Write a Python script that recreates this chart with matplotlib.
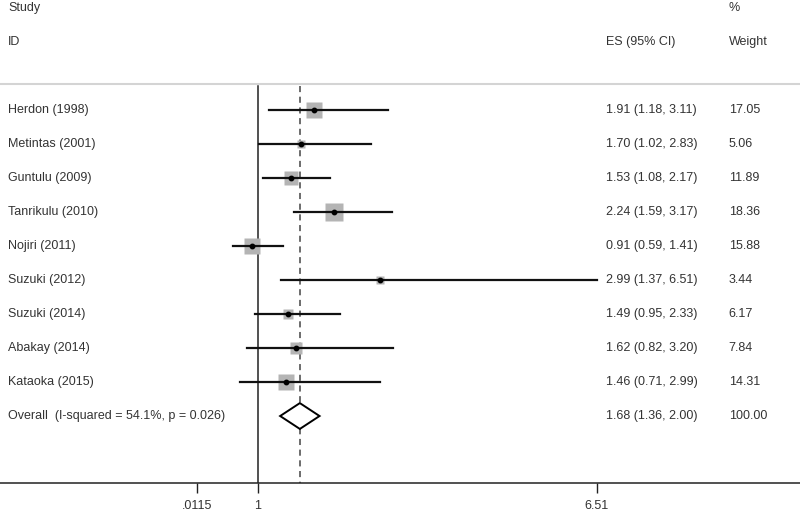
import numpy as np
import matplotlib.pyplot as plt

plt.rcParams['font.family'] = ['Liberation Sans', 'DejaVu Sans']

studies = ['Herdon (1998)', 'Metintas (2001)', 'Guntulu (2009)', 'Tanrikulu (2010)',
           'Nojiri (2011)', 'Suzuki (2012)', 'Suzuki (2014)', 'Abakay (2014)', 'Kataoka (2015)']
es = [1.91, 1.70, 1.53, 2.24, 0.91, 2.99, 1.49, 1.62, 1.46]
lo = [1.18, 1.02, 1.08, 1.59, 0.59, 1.37, 0.95, 0.82, 0.71]
hi = [3.11, 2.83, 2.17, 3.17, 1.41, 6.51, 2.33, 3.20, 2.99]
weight = [17.05, 5.06, 11.89, 18.36, 15.88, 3.44, 6.17, 7.84, 14.31]

overall_label = 'Overall  (I-squared = 54.1%, p = 0.026)'
overall_es, overall_lo, overall_hi, overall_w = 1.68, 1.36, 2.00, 100.00

xticks = [0.0115, 1, 6.51]
xticklabels = ['.0115', '1', '6.51']

fig = plt.figure(figsize=(8, 5.11), dpi=100)
ax = fig.add_axes([0, 28 / 511, 1, 483 / 511])
ax.set_xlim(-3.194, 9.81)
ax.set_ylim(10.97, -3.235)

txt = dict(fontsize=9, color='#333333', va='center')
yt = ax.get_yaxis_transform()
x_es, x_w = 0.757, 0.911

# header
ax.text(0.01, -3, 'Study', transform=yt, **txt)
ax.text(0.01, -2, 'ID', transform=yt, **txt)
ax.text(x_es, -2, 'ES (95% CI)', transform=yt, **txt)
ax.text(x_w, -3, '%', transform=yt, **txt)
ax.text(x_w, -2, 'Weight', transform=yt, **txt)
ax.axhline(-0.76, color='#d4d4d4', lw=1.5)

# reference lines
ax.plot([1, 1], [-0.72, 10.97], color='#222222', lw=1.1)
ax.plot([overall_es] * 2, [-0.72, 10.97], color='#444444', lw=1.1, ls=(0, (4, 3)))

# studies
for i, (s, e, l, h, w) in enumerate(zip(studies, es, lo, hi, weight)):
    side = 4.0 * np.sqrt(w)
    ax.plot(e, i, marker='s', ms=side * 0.72, color='#b4b4b4', mec='none', zorder=2)
    ax.plot([l, h], [i, i], color='#111111', lw=1.6, zorder=3)
    ax.plot(e, i, marker='o', ms=3.2, color='black', zorder=4)
    ax.text(0.01, i, s, transform=yt, **txt)
    ax.text(x_es, i, f'{e:.2f} ({l:.2f}, {h:.2f})', transform=yt, **txt)
    ax.text(x_w, i, f'{w:.2f}', transform=yt, **txt)

# overall diamond
n = len(studies)
dx = [overall_lo, overall_es, overall_hi, overall_es, overall_lo]
dy = [n, n - 0.38, n, n + 0.38, n]
ax.fill(dx, dy, facecolor='white', edgecolor='black', lw=1.4, zorder=5)
ax.text(0.01, n, overall_label, transform=yt, **txt)
ax.text(x_es, n, f'{overall_es:.2f} ({overall_lo:.2f}, {overall_hi:.2f})', transform=yt, **txt)
ax.text(x_w, n, f'{overall_w:.2f}', transform=yt, **txt)

# x axis
for sp in ['top', 'left', 'right']:
    ax.spines[sp].set_visible(False)
ax.spines['bottom'].set_color('#222222')
ax.spines['bottom'].set_linewidth(1.1)
ax.set_yticks([])
ax.set_xticks(xticks)
ax.set_xticklabels(xticklabels)
ax.tick_params(axis='x', length=7, width=1, color='#222222', labelsize=9,
               labelcolor='#333333', pad=5)

fig.savefig('out.png', dpi=100)
